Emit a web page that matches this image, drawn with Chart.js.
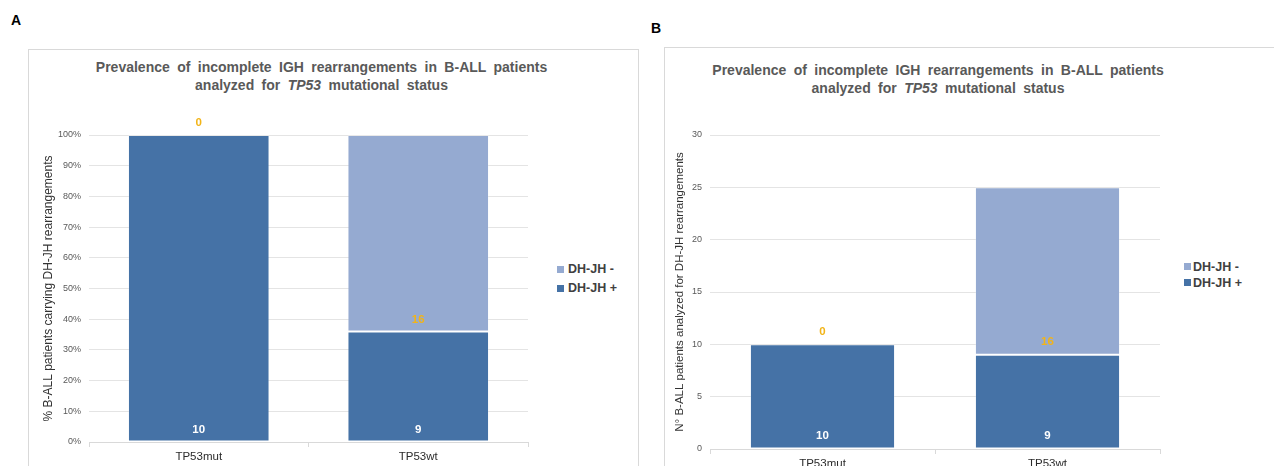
<!DOCTYPE html>
<html>
<head>
<meta charset="utf-8">
<script src="https://cdn.jsdelivr.net/npm/chart.js@4.4.1/dist/chart.umd.min.js"></script>
<style>
  body { margin: 0; width: 1274px; height: 466px; overflow: hidden; background: #fff; position: relative;
         font-family: Arial, "Liberation Sans", sans-serif; }
  .letter { position: absolute; font-weight: bold; font-size: 14px; color: #000; }
  .box { position: absolute; border: 1px solid #d9d9d9; background: #fff; }
  .title { position: absolute; text-align: center; font-weight: bold; font-size: 14px; color: #595959;
           line-height: 18px; white-space: nowrap; word-spacing: 3.5px; }
  .legend { position: absolute; font-weight: bold; font-size: 12.5px; color: #404040; }
  .legend .item { position: absolute; left: 0; height: 16px; line-height: 16px; white-space: nowrap; }
  .legend .swatch { position: absolute; left: 0; top: 4.5px; width: 7px; height: 7px; }
  .legend .text { position: absolute; white-space: nowrap; }
  canvas { position: absolute; }
</style>
</head>
<body>

<div class="letter" style="left:11px;top:12px">A</div>
<div class="box" style="left:28px;top:49px;width:609px;height:430px"></div>
<div class="title" style="left:0;top:58px;width:643px">
  Prevalence of incomplete IGH rearrangements in B-ALL patients<br>analyzed for <i>TP53</i> mutational status
</div>
<canvas id="chart-pct" width="511" height="372" style="left:29px;top:100px"></canvas>
<div class="legend" id="legend-pct" style="left:557px;top:0"></div>

<div class="letter" style="left:651px;top:20px">B</div>
<div class="box" style="left:664px;top:47px;width:700px;height:430px"></div>
<div class="title" style="left:638px;top:62px;width:600px;line-height:17.5px">
  Prevalence of incomplete IGH rearrangements in B-ALL patients<br>analyzed for <i>TP53</i> mutational status
</div>
<canvas id="chart-count" width="507" height="379" style="left:665px;top:100px"></canvas>
<div class="legend" id="legend-count" style="left:1184px;top:0"></div>

<script>
const categories = ['TP53mut', 'TP53wt'];

// panel A: share of patients (%)
const pctPositive = [100, 36];
const pctNegative = [0, 64];
const pctTicks = [0, 10, 20, 30, 40, 50, 60, 70, 80, 90, 100];

// panel B: number of patients
const countPositive = [10, 9];
const countNegative = [0, 16];
const countTicks = [0, 5, 10, 15, 20, 25, 30];

// numbers printed on the bars
const labelPositive = [10, 9];
const labelNegative = [0, 16];

const DARK = '#4572a6';
const LIGHT = '#95aad1';
const ORANGE = '#f2b418';
const FONT = 'Arial, "Liberation Sans", sans-serif';

const barLabels = {
  id: 'barLabels',
  afterDatasetsDraw(chart, args, opts) {
    const { ctx } = chart;
    ctx.save();
    ctx.font = `bold 11.5px ${FONT}`;
    ctx.textAlign = 'center';
    ctx.textBaseline = 'middle';
    chart.data.datasets.forEach((ds, i) => {
      chart.getDatasetMeta(i).data.forEach((bar, j) => {
        ctx.fillStyle = ds.labelColor;
        ctx.fillText(String(ds.counts[j]), bar.x, bar.base - opts.lift);
      });
    });
    ctx.restore();
  },
};

function datasets(pos, neg) {
  const common = { barPercentage: 0.645, categoryPercentage: 1, borderWidth: 1,
                   borderColor: 'rgba(255,255,255,0.2)', borderSkipped: false };
  return [
    { label: 'DH-JH +', data: pos, backgroundColor: DARK, counts: labelPositive, labelColor: '#fff', ...common },
    { label: 'DH-JH -', data: neg, backgroundColor: LIGHT, counts: labelNegative, labelColor: ORANGE, ...common },
  ];
}

function makeChart(id, cfg) {
  return new Chart(document.getElementById(id), {
    type: 'bar',
    data: { labels: categories, datasets: datasets(cfg.pos, cfg.neg) },
    plugins: [barLabels],
    options: {
      responsive: false,
      animation: false,
      events: [],
      layout: { padding: { top: 35, right: 12, left: 0, bottom: 0 } },
      plugins: {
        legend: { display: false },
        tooltip: { enabled: false },
        barLabels: { lift: cfg.lift },
      },
      scales: {
        x: {
          stacked: true,
          afterFit: (s) => { s.height = 30; },
          grid: { offset: true, drawOnChartArea: false, drawTicks: true, tickLength: 5, color: '#d9d9d9' },
          border: { display: true, color: '#d9d9d9' },
          ticks: { color: '#2b2b2b', font: { family: FONT, size: 11.5 }, padding: 3 },
        },
        y: {
          stacked: true,
          min: cfg.ticks[0],
          max: cfg.ticks[cfg.ticks.length - 1],
          afterFit: (s) => { s.width = cfg.axisWidth; },
          afterBuildTicks: (s) => { s.ticks = cfg.ticks.map((v) => ({ value: v })); },
          grid: { color: '#e4e4e4', drawTicks: false },
          border: { display: false },
          ticks: { color: '#595959', font: { family: FONT, size: 9 }, padding: 8, callback: cfg.fmt },
          title: {
            display: true,
            text: cfg.yTitle,
            color: '#333333',
            font: { family: FONT, size: cfg.titleSize },
            padding: { top: cfg.titlePad, bottom: 0 },
          },
        },
      },
    },
  });
}

function renderLegend(id, chart, rows) {
  const items = chart.data.datasets.slice().reverse();
  document.getElementById(id).innerHTML = items
    .map((ds, i) => `<div class="item" style="top:${rows[i] - 8}px">
        <span class="swatch" style="background:${ds.backgroundColor}"></span>
        <span class="text" style="left:${rows.textLeft}px">${ds.label}</span></div>`)
    .join('');
}

const pctChart = makeChart('chart-pct', {
  pos: pctPositive, neg: pctNegative, ticks: pctTicks, fmt: (v) => `${v}%`,
  yTitle: '% B-ALL patients carrying DH-JH rearrangements',
  axisWidth: 60, titleSize: 12, titlePad: 12, lift: 12,
});

const countChart = makeChart('chart-count', {
  pos: countPositive, neg: countNegative, ticks: countTicks, fmt: (v) => `${v}`,
  yTitle: 'N° B-ALL patients analyzed for DH-JH rearrangements',
  axisWidth: 45, titleSize: 11.5, titlePad: 8, lift: 13,
});

const rowsA = [269.3, 288.3]; rowsA.textLeft = 11;
const rowsB = [266.7, 282.7]; rowsB.textLeft = 9;
renderLegend('legend-pct', pctChart, rowsA);
renderLegend('legend-count', countChart, rowsB);
</script>
</body>
</html>
